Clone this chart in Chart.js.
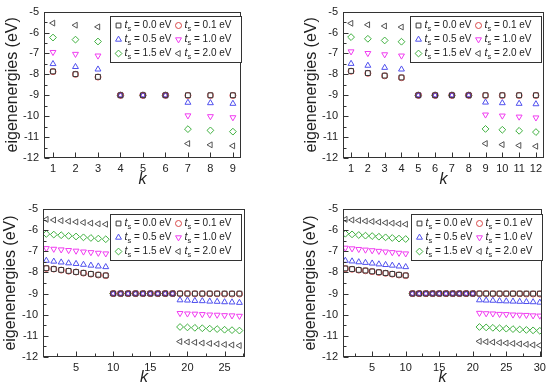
<!DOCTYPE html>
<html>
<head>
<meta charset="utf-8">
<script src="https://cdn.jsdelivr.net/npm/chart.js@4.4.1/dist/chart.umd.min.js"></script>
<style>
  html, body { margin: 0; padding: 0; background: #fff; }
  #wrap { position: relative; width: 550px; height: 390px; }
  .cell { position: absolute; width: 275px; height: 195px; }
  canvas { display: block; }
</style>
</head>
<body>
<div id="wrap">
  <div class="cell" style="left:0;top:0"><canvas id="c1" width="275" height="195"></canvas></div>
  <div class="cell" style="left:275px;top:0"><canvas id="c2" width="275" height="195"></canvas></div>
  <div class="cell" style="left:0;top:195px"><canvas id="c3" width="275" height="195"></canvas></div>
  <div class="cell" style="left:275px;top:195px"><canvas id="c4" width="275" height="195"></canvas></div>
</div>
<script>
// ---- legend labels (t_s values, eV) ----
const tsLabels = ['0.0', '0.1', '0.5', '1.0', '1.5', '2.0'];
const yTicks = [-12, -11, -10, -9, -8, -7, -6, -5];

// ---- Panel 1 (k = 1..9) ----
const p1_k    = [1, 2, 3, 4, 5, 6, 7, 8, 9];
const p1_ts00 = [-7.86, -7.99, -8.12, -9.00, -9.00, -9.00, -9.00, -9.00, -9.00];
const p1_ts01 = [-7.87, -8.00, -8.13, -9.00, -9.00, -9.00, -9.01, -9.01, -9.01];
const p1_ts05 = [-7.50, -7.64, -7.76, -9.00, -9.00, -9.00, -9.35, -9.37, -9.40];
const p1_ts10 = [-6.94, -7.03, -7.11, -9.00, -9.00, -9.00, -9.97, -10.01, -10.06];
const p1_ts15 = [-6.24, -6.34, -6.43, -9.00, -9.00, -9.00, -10.62, -10.68, -10.74];
const p1_ts20 = [-5.55, -5.65, -5.73, -9.00, -9.00, -9.00, -11.31, -11.37, -11.42];

// ---- Panel 2 (k = 1..12) ----
const p2_k    = [1, 2, 3, 4, 5, 6, 7, 8, 9, 10, 11, 12];
const p2_ts00 = [-7.84, -7.94, -8.06, -8.15, -9.00, -9.00, -9.00, -9.00, -9.00, -9.00, -9.00, -9.00];
const p2_ts01 = [-7.85, -7.95, -8.07, -8.16, -9.00, -9.00, -9.00, -9.00, -9.01, -9.01, -9.01, -9.01];
const p2_ts05 = [-7.49, -7.58, -7.68, -7.76, -9.00, -9.00, -9.00, -9.00, -9.34, -9.37, -9.40, -9.42];
const p2_ts10 = [-6.91, -6.99, -7.05, -7.11, -9.00, -9.00, -9.00, -9.00, -9.93, -9.98, -10.03, -10.07];
const p2_ts15 = [-6.22, -6.30, -6.38, -6.44, -9.00, -9.00, -9.00, -9.00, -10.61, -10.65, -10.70, -10.76];
const p2_ts20 = [-5.56, -5.63, -5.69, -5.74, -9.00, -9.00, -9.00, -9.00, -11.31, -11.36, -11.40, -11.44];

// ---- Panel 3 (k = 1..27) ----
const p3_k    = [1, 2, 3, 4, 5, 6, 7, 8, 9, 10, 11, 12, 13, 14, 15, 16, 17, 18, 19, 20, 21, 22, 23, 24, 25, 26, 27];
const p3_ts00 = [-7.80, -7.84, -7.88, -7.93, -7.98, -8.02, -8.07, -8.11, -8.14,
                 -9.00, -9.00, -9.00, -9.00, -9.00, -9.00, -9.00, -9.00, -9.00,
                 -9.00, -9.00, -9.00, -9.00, -9.00, -9.00, -9.00, -9.00, -9.00];
const p3_ts01 = [-7.81, -7.84, -7.89, -7.94, -7.98, -8.03, -8.08, -8.12, -8.15,
                 -9.00, -9.00, -9.00, -9.00, -9.00, -9.00, -9.00, -9.00, -9.00,
                 -9.00, -9.00, -9.01, -9.01, -9.01, -9.01, -9.02, -9.02, -9.02];
const p3_ts05 = [-7.44, -7.48, -7.52, -7.56, -7.59, -7.63, -7.67, -7.71, -7.74,
                 -9.00, -9.00, -9.00, -9.00, -9.00, -9.00, -9.00, -9.00, -9.00,
                 -9.31, -9.32, -9.34, -9.35, -9.37, -9.38, -9.40, -9.41, -9.43];
const p3_ts10 = [-6.86, -6.89, -6.92, -6.95, -6.98, -7.02, -7.05, -7.08, -7.11,
                 -9.00, -9.00, -9.00, -9.00, -9.00, -9.00, -9.00, -9.00, -9.00,
                 -9.93, -9.95, -9.96, -9.98, -10.00, -10.01, -10.03, -10.04, -10.06];
const p3_ts15 = [-6.18, -6.21, -6.24, -6.27, -6.30, -6.34, -6.37, -6.40, -6.43,
                 -9.00, -9.00, -9.00, -9.00, -9.00, -9.00, -9.00, -9.00, -9.00,
                 -10.58, -10.60, -10.62, -10.64, -10.66, -10.68, -10.71, -10.73, -10.75];
const p3_ts20 = [-5.49, -5.52, -5.55, -5.58, -5.61, -5.64, -5.67, -5.70, -5.72,
                 -9.00, -9.00, -9.00, -9.00, -9.00, -9.00, -9.00, -9.00, -9.00,
                 -11.27, -11.29, -11.31, -11.34, -11.36, -11.38, -11.41, -11.43, -11.46];

// ---- Panel 4 (k = 1..30) ----
const p4_k    = [1, 2, 3, 4, 5, 6, 7, 8, 9, 10, 11, 12, 13, 14, 15, 16, 17, 18, 19, 20, 21, 22, 23, 24, 25, 26, 27, 28, 29, 30];
const p4_ts00 = [-7.81, -7.84, -7.88, -7.91, -7.95, -7.99, -8.03, -8.07, -8.11, -8.14,
                 -9.00, -9.00, -9.00, -9.00, -9.00, -9.00, -9.00, -9.00, -9.00, -9.00,
                 -9.00, -9.00, -9.00, -9.00, -9.00, -9.00, -9.00, -9.00, -9.00, -9.00];
const p4_ts01 = [-7.82, -7.85, -7.89, -7.92, -7.96, -8.00, -8.04, -8.08, -8.12, -8.15,
                 -9.00, -9.00, -9.00, -9.00, -9.00, -9.00, -9.00, -9.00, -9.00, -9.00,
                 -9.00, -9.00, -9.01, -9.01, -9.01, -9.01, -9.01, -9.02, -9.02, -9.02];
const p4_ts05 = [-7.44, -7.47, -7.51, -7.54, -7.57, -7.61, -7.64, -7.67, -7.71, -7.74,
                 -9.00, -9.00, -9.00, -9.00, -9.00, -9.00, -9.00, -9.00, -9.00, -9.00,
                 -9.31, -9.32, -9.33, -9.35, -9.36, -9.37, -9.38, -9.39, -9.40, -9.42];
const p4_ts10 = [-6.84, -6.87, -6.90, -6.93, -6.96, -6.99, -7.02, -7.05, -7.08, -7.11,
                 -9.00, -9.00, -9.00, -9.00, -9.00, -9.00, -9.00, -9.00, -9.00, -9.00,
                 -9.92, -9.94, -9.95, -9.97, -9.98, -10.00, -10.01, -10.02, -10.04, -10.05];
const p4_ts15 = [-6.17, -6.20, -6.23, -6.26, -6.28, -6.31, -6.34, -6.37, -6.40, -6.42,
                 -9.00, -9.00, -9.00, -9.00, -9.00, -9.00, -9.00, -9.00, -9.00, -9.00,
                 -10.58, -10.60, -10.62, -10.64, -10.66, -10.68, -10.70, -10.72, -10.74, -10.76];
const p4_ts20 = [-5.49, -5.52, -5.54, -5.57, -5.59, -5.62, -5.65, -5.67, -5.70, -5.72,
                 -9.00, -9.00, -9.00, -9.00, -9.00, -9.00, -9.00, -9.00, -9.00, -9.00,
                 -11.26, -11.28, -11.30, -11.32, -11.34, -11.36, -11.38, -11.40, -11.43, -11.45];

// ---- styling ----
const FONT = '"Liberation Sans", Arial, sans-serif';
Chart.defaults.font.family = FONT;
const colors    = ['#3a3a3a', '#d94848', '#5050ee', '#f03cf0', '#3fb03f', '#555555'];
const styles    = ['rect', 'circle', 'triangle', 'triangle', 'rectRot', 'triangle'];
const rotations = [0, 0, 0, 180, 0, -90];
const radii     = [3.4, 3.0, 3.4, 3.4, 3.4, 3.4];

const framePlugin = {
  id: 'frameTicks',
  afterDraw(chart, args, opts) {
    const ctx = chart.ctx, a = chart.chartArea;
    const xs = chart.scales.x, ys = chart.scales.y;
    const L = Math.round(a.left) + 0.5, R = Math.round(a.right) - 0.5;
    const T = Math.round(a.top) + 0.5, B = Math.round(a.bottom) - 0.5;
    ctx.save();
    ctx.strokeStyle = '#333';
    ctx.lineWidth = 1;
    ctx.strokeRect(L, T, R - L, B - T);
    ctx.beginPath();
    ys.ticks.forEach(t => {
      const y = Math.round(ys.getPixelForValue(t.value)) + 0.5;
      ctx.moveTo(L, y); ctx.lineTo(L + 5, y);
    });
    for (let v = ys.min + 0.5; v < ys.max; v += 1) {
      const y = Math.round(ys.getPixelForValue(v)) + 0.5;
      ctx.moveTo(L, y); ctx.lineTo(L + 3, y);
    }
    xs.ticks.forEach(t => {
      const x = Math.round(xs.getPixelForValue(t.value)) + 0.5;
      ctx.moveTo(x, B); ctx.lineTo(x, B - 5);
    });
    if (opts.xMinor) {
      const step = opts.xMinor;
      for (let v = Math.ceil(xs.min / step) * step; v <= xs.max; v += step) {
        if (Math.abs(v / (2 * step) - Math.round(v / (2 * step))) < 1e-6) continue;
        const x = Math.round(xs.getPixelForValue(v)) + 0.5;
        ctx.moveTo(x, B); ctx.lineTo(x, B - 3);
      }
    }
    ctx.stroke();

    // legend box
    const w = 131, h = 46;
    const x0 = Math.round(a.right - opts.legRight - w) + 0.5;
    const y0 = Math.round(a.top + opts.legTop) + 0.5;
    ctx.fillStyle = '#fff';
    ctx.fillRect(x0, y0, w, h);
    ctx.strokeStyle = '#333';
    ctx.strokeRect(x0, y0, w, h);
    chart.data.datasets.forEach((ds, i) => {
      const col = i % 2, row = Math.floor(i / 2);
      const mx = x0 + 8 + col * 60, my = y0 + 9 + row * 14;
      ctx.strokeStyle = ds.borderColor;
      ctx.fillStyle = 'rgba(0,0,0,0)';
      ctx.lineWidth = 1;
      Chart.helpers.drawPoint(ctx, {
        pointStyle: ds.pointStyle, rotation: ds.pointRotation || 0,
        radius: ds.pointRadius, borderWidth: 1
      }, mx, my);
      let tx = mx + 6;
      ctx.fillStyle = '#222';
      ctx.textBaseline = 'middle';
      ctx.textAlign = 'left';
      ctx.font = 'italic 10.5px ' + FONT;
      ctx.fillText('t', tx, my);
      tx += ctx.measureText('t').width;
      ctx.font = '7.5px ' + FONT;
      ctx.fillText('s', tx, my + 3.5);
      tx += ctx.measureText('s').width;
      ctx.font = '10px ' + FONT;
      ctx.fillText(' = ' + ds.label + ' eV', tx, my);
    });
    ctx.restore();
  }
};

function makeChart(id, k, series, cfg) {
  const datasets = series.map((vals, i) => ({
    label: tsLabels[i],
    data: k.map((x, j) => ({ x: x, y: vals[j] })),
    pointStyle: styles[i],
    pointRotation: rotations[i],
    pointRadius: radii[i],
    pointBorderWidth: 1,
    borderColor: colors[i],
    backgroundColor: 'rgba(0,0,0,0)',
    showLine: false
  }));
  return new Chart(document.getElementById(id), {
    type: 'scatter',
    data: { datasets: datasets },
    options: {
      responsive: false,
      animation: false,
      devicePixelRatio: 1,
      layout: { padding: { left: cfg.padL, top: cfg.top, right: 275 - cfg.right, bottom: cfg.padB } },
      plugins: {
        legend: { display: false },
        tooltip: { enabled: false },
        frameTicks: { legRight: cfg.legRight, legTop: cfg.legTop, xMinor: cfg.xMinor }
      },
      scales: {
        x: {
          type: 'linear', min: cfg.xmin, max: cfg.xmax,
          grid: { display: false, drawTicks: false },
          border: { display: false },
          ticks: { stepSize: cfg.xstep, includeBounds: false, padding: 4, color: '#222', font: { size: 11 } },
          title: { display: true, text: 'k', color: '#222', padding: 0, font: { size: 16, style: 'italic' } },
          afterFit(s) { s.height = 195 - cfg.bottom - cfg.padB; }
        },
        y: {
          type: 'linear', min: yTicks[0], max: yTicks[yTicks.length - 1],
          grid: { display: false, drawTicks: false },
          border: { display: false },
          ticks: { stepSize: 1, padding: 5, color: '#222', font: { size: 11 } },
          title: { display: true, text: 'eigenenergies (eV)', color: '#222', padding: 0, font: { size: 16 } },
          afterFit(s) { s.width = cfg.left - cfg.padL; }
        }
      }
    },
    plugins: [framePlugin]
  });
}

makeChart('c1', p1_k, [p1_ts00, p1_ts01, p1_ts05, p1_ts10, p1_ts15, p1_ts20],
  { left: 44, right: 241, top: 9, bottom: 158, padL: 3, padB: 5.4, xmin: 0.6, xmax: 9.36, xstep: 1, legRight: 0, legTop: 4 });
makeChart('c2', p2_k, [p2_ts00, p2_ts01, p2_ts05, p2_ts10, p2_ts15, p2_ts20],
  { left: 68, right: 269, top: 9, bottom: 158, padL: 27.4, padB: 5.4, xmin: 0.52, xmax: 12.48, xstep: 1, legRight: 3, legTop: 4 });
makeChart('c3', p3_k, [p3_ts00, p3_ts01, p3_ts05, p3_ts10, p3_ts15, p3_ts20],
  { left: 43, right: 245, top: 14, bottom: 162, padL: 1.4, padB: 2.7, xmin: 0.55, xmax: 27.75, xstep: 5, xMinor: 2.5, legRight: 4, legTop: 5 });
makeChart('c4', p4_k, [p4_ts00, p4_ts01, p4_ts05, p4_ts10, p4_ts15, p4_ts20],
  { left: 68, right: 267, top: 14, bottom: 162, padL: 26.4, padB: 2.7, xmin: 0.65, xmax: 30.3, xstep: 5, xMinor: 2.5, legRight: 0, legTop: 5 });
</script>
</body>
</html>
